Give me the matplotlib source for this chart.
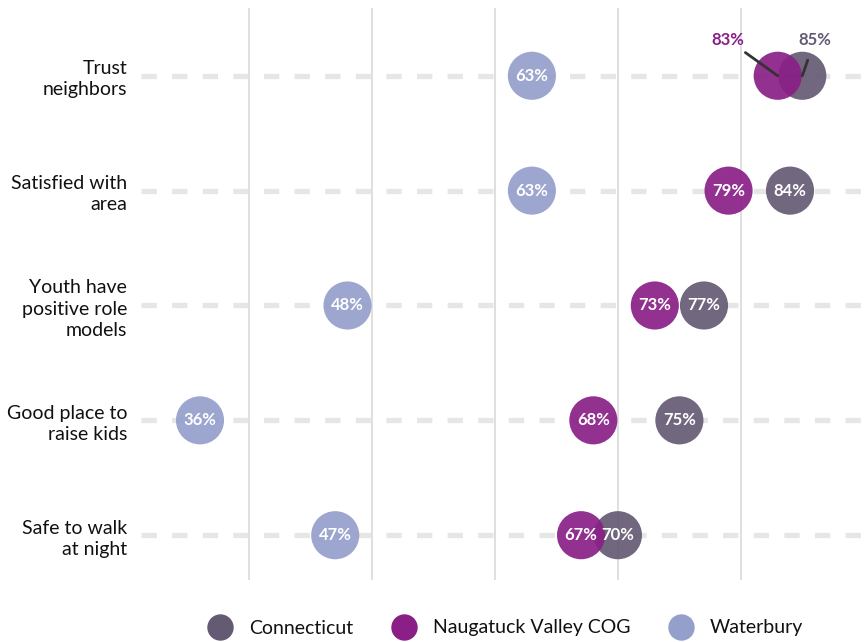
import matplotlib.pyplot as plt
import numpy as np

plt.rcParams['font.family'] = ['Lato', 'DejaVu Sans']

categories = ['Trust\nneighbors', 'Satisfied with\narea', 'Youth have\npositive role\nmodels',
              'Good place to\nraise kids', 'Safe to walk\nat night']
connecticut = [85, 84, 77, 75, 70]
naugatuck = [83, 79, 73, 68, 67]
waterbury = [63, 63, 48, 36, 47]

series = [('Waterbury', waterbury, '#959fcb'),
          ('Connecticut', connecticut, '#655a73'),
          ('Naugatuck Valley COG', naugatuck, '#891f87')]

fig = plt.figure(figsize=(8.65, 6.42), dpi=100)
ax = fig.add_axes([141 / 865, 1 - 580 / 642, 1 - 141 / 865, 572 / 642])

y = np.arange(len(categories))
ax.set_xlim(31.2, 90.1)
ax.set_ylim(4.39, -0.59)

for gx in [40, 50, 60, 70, 80]:
    ax.axvline(gx, color='#dcdcdc', lw=1.3, zorder=0)
for yy in y:
    ax.plot([31.2, 90.1], [yy, yy], color='#e6e6e6', lw=3.8, dashes=(2.9, 2.9), zorder=1,
            solid_capstyle='butt')

for name, vals, col in series:
    ax.scatter(vals, y, s=1200, color=col, alpha=0.92, edgecolors='none', zorder=3)

# labels inside circles, except the overlapping first row
for name, vals, col in series:
    for i, v in enumerate(vals):
        if i == 0 and name != 'Waterbury':
            continue
        ax.text(v, i, f'{v}%', color='white', fontsize=12, fontweight='bold',
                ha='center', va='center', zorder=5)

# callouts for the top row
ax.annotate(f'{naugatuck[0]}%', xy=(naugatuck[0], 0), xytext=(80.3, -0.31),
            color='#891f87', fontsize=12, fontweight='bold', ha='right', va='center',
            arrowprops=dict(arrowstyle='-', color='#333333', lw=2, shrinkA=2, shrinkB=0),
            zorder=6)
ax.annotate(f'{connecticut[0]}%', xy=(connecticut[0], 0), xytext=(86.0, -0.31),
            color='#655a73', fontsize=12, fontweight='bold', ha='center', va='center',
            arrowprops=dict(arrowstyle='-', color='#333333', lw=2, shrinkA=7, shrinkB=0),
            zorder=6)

ax.set_yticks(y)
ax.set_yticklabels(categories, fontsize=14, color='#111111', linespacing=1.3)
ax.tick_params(axis='y', length=0, pad=10)
ax.set_xticks([])
for s in ax.spines.values():
    s.set_visible(False)

handles = [plt.Line2D([], [], marker='o', ls='', ms=19, color=c, markeredgewidth=0)
           for n, v, c in [series[1], series[2], series[0]]]
labels = ['Connecticut', 'Naugatuck Valley COG', 'Waterbury']
fig.legend(handles, labels, loc='center', bbox_to_anchor=(0.58, 1 - 628 / 642), ncol=3,
           frameon=False, fontsize=14, handletextpad=0.5, columnspacing=1.6,
           labelcolor='#111111')

fig.savefig('out.png', dpi=100)
